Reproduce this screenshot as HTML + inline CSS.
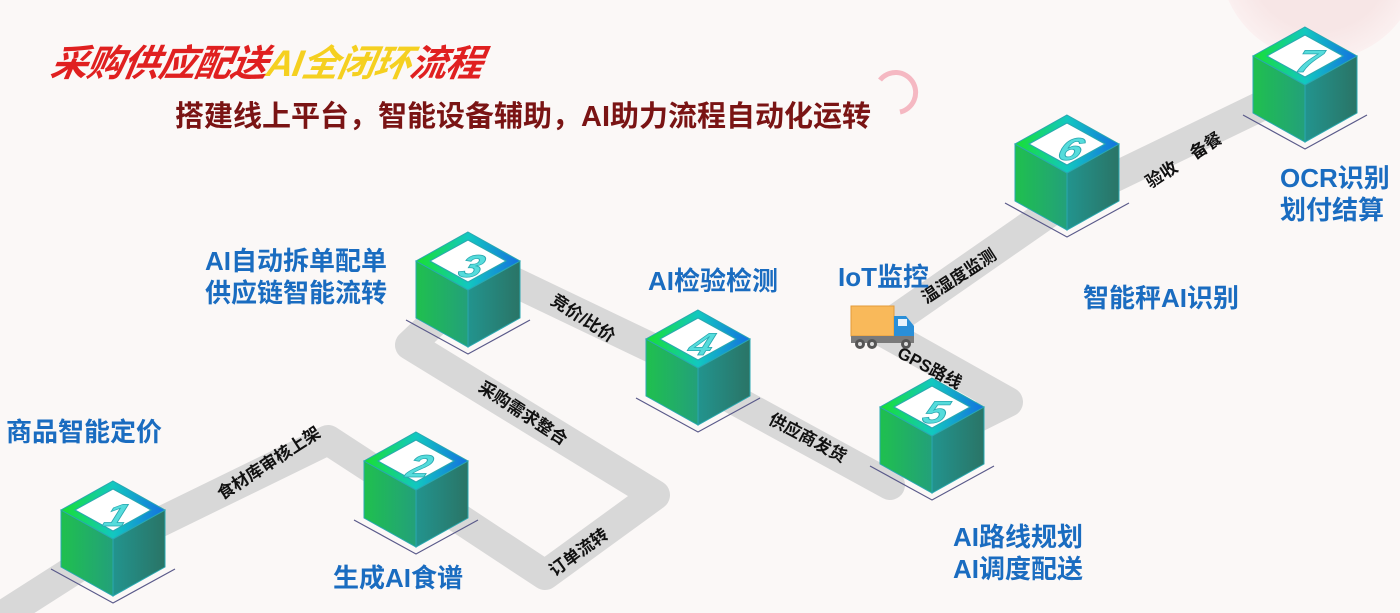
<!DOCTYPE html>
<html><head><meta charset="utf-8"><style>
html,body{margin:0;padding:0}
body{width:1400px;height:613px;overflow:hidden;background:#fbf8f7;position:relative;font-family:"Liberation Sans","Noto Sans CJK SC",sans-serif}
.t{position:absolute;white-space:nowrap;font-weight:bold}
.b{color:#1a6cc0;font-size:26px;line-height:32px}
</style></head><body>
<svg width="1400" height="613" style="position:absolute;left:0;top:0">
<defs>
<linearGradient id="lf" x1="0" x2="1"><stop offset="0" stop-color="#1fc04e"/><stop offset="1" stop-color="#23a07a"/></linearGradient>
<linearGradient id="rf" x1="0" x2="1"><stop offset="0" stop-color="#22948e"/><stop offset="1" stop-color="#2a7466"/></linearGradient>
<linearGradient id="tf" x1="0" x2="1"><stop offset="0" stop-color="#18e030"/><stop offset="0.5" stop-color="#12c8c0"/><stop offset="1" stop-color="#1470e0"/></linearGradient>
<radialGradient id="pk"><stop offset="0.7" stop-color="#f7e6e6"/><stop offset="1" stop-color="#fbf0f0"/></radialGradient>
<g id="cube">
<polyline points="-62,88 0,122 62,88" fill="none" stroke="#5a5a8a" stroke-width="1.2"/>
<polygon points="-52,29 0,58 0,115 -52,86" fill="url(#lf)"/>
<polygon points="52,29 0,58 0,115 52,86" fill="url(#rf)"/>
<polygon points="0,0 52,29 0,58 -52,29" fill="url(#tf)"/>
<polygon points="0,8 38,29 0,50 -38,29" fill="#ffffff"/>
</g>
</defs>
<circle cx="1320" cy="-40" r="100" fill="url(#pk)"/>
<path d="M880,80 A20,20 0 1 1 900,112" fill="none" stroke="#f5b8c2" stroke-width="5"/>
<g fill="none" stroke="#d8d8d8" stroke-width="30" stroke-linejoin="round" stroke-linecap="round">
<polyline points="-20,630 113,545 328,440 420,500"/>
<polyline points="416,490 545,575 655,495 410,345 468,290"/>
<polyline points="468,260 698,370"/>
<polyline points="698,380 890,485"/>
<polyline points="932,440 1008,402 880,330 1067,200 1305,85"/>
</g>
<g font-size="17" font-weight="bold" fill="#111" text-anchor="middle" font-family="Liberation Sans,Noto Sans CJK SC,sans-serif">
<text transform="translate(272,468) rotate(-33)">食材库审核上架</text>
<text transform="translate(520,418) rotate(33)">采购需求整合</text>
<text transform="translate(582,557) rotate(-36)">订单流转</text>
<text transform="translate(580,323) rotate(33)">竞价/比价</text>
<text transform="translate(805,443) rotate(28)">供应商发货</text>
<text transform="translate(927,373) rotate(28)">GPS路线</text>
<text transform="translate(962,281) rotate(-33)">温湿度监测</text>
<text transform="translate(1187,165) rotate(-33)">验收 &#160;&#160;&#160;备餐</text>
</g>
<g font-size="42" font-weight="bold" font-style="italic" fill="#55dcdc" stroke="#2aa8b0" stroke-width="1" text-anchor="middle" font-family="Liberation Sans,sans-serif">
<use href="#cube" x="113" y="481"/><text transform="translate(113,526) skewX(-20) scale(1,0.75)">1</text>
<use href="#cube" x="416" y="432"/><text transform="translate(416,477) skewX(-20) scale(1,0.75)">2</text>
<use href="#cube" x="468" y="232"/><text transform="translate(468,277) skewX(-20) scale(1,0.75)">3</text>
<use href="#cube" x="698" y="310"/><text transform="translate(698,355) skewX(-20) scale(1,0.75)">4</text>
<use href="#cube" x="932" y="378"/><text transform="translate(932,423) skewX(-20) scale(1,0.75)">5</text>
<use href="#cube" x="1067" y="115"/><text transform="translate(1067,160) skewX(-20) scale(1,0.75)">6</text>
<use href="#cube" x="1305" y="27"/><text transform="translate(1305,72) skewX(-20) scale(1,0.75)">7</text>
</g>
<g>
<rect x="851" y="306" width="43" height="30" fill="#f9b95a" stroke="#e29a3a"/>
<path d="M894,316 h12 l8,10 v12 h-20z" fill="#2a8fd8"/>
<rect x="898" y="319" width="9" height="7" fill="#e8f2fb"/>
<rect x="851" y="336" width="63" height="7" fill="#7a7a7a"/>
<circle cx="860" cy="344" r="5" fill="#555"/><circle cx="860" cy="344" r="2" fill="#ddd"/>
<circle cx="872" cy="344" r="5" fill="#555"/><circle cx="872" cy="344" r="2" fill="#ddd"/>
<circle cx="906" cy="344" r="5" fill="#555"/><circle cx="906" cy="344" r="2" fill="#ddd"/>
</g>
</svg>
<div class="t" style="left:52px;top:33px;font-size:37px;font-style:italic;color:#e02020;letter-spacing:-1px;transform:skewX(-10deg)">采购供应配送<span style="color:#f5d020">AI全闭环</span>流程</div>
<div class="t" style="left:175px;top:93px;font-size:29px;color:#7a1414">搭建线上平台，智能设备辅助，AI助力流程自动化运转</div>
<div class="t b" style="left:6px;top:416px">商品智能定价</div>
<div class="t b" style="left:333px;top:562px">生成AI食谱</div>
<div class="t b" style="left:205px;top:245px">AI自动拆单配单<br>供应链智能流转</div>
<div class="t b" style="left:648px;top:265px">AI检验检测</div>
<div class="t b" style="left:838px;top:261px">IoT监控</div>
<div class="t b" style="left:1083px;top:282px">智能秤AI识别</div>
<div class="t b" style="left:1280px;top:162px">OCR识别<br>划付结算</div>
<div class="t b" style="left:953px;top:521px">AI路线规划<br>AI调度配送</div>
</body></html>
